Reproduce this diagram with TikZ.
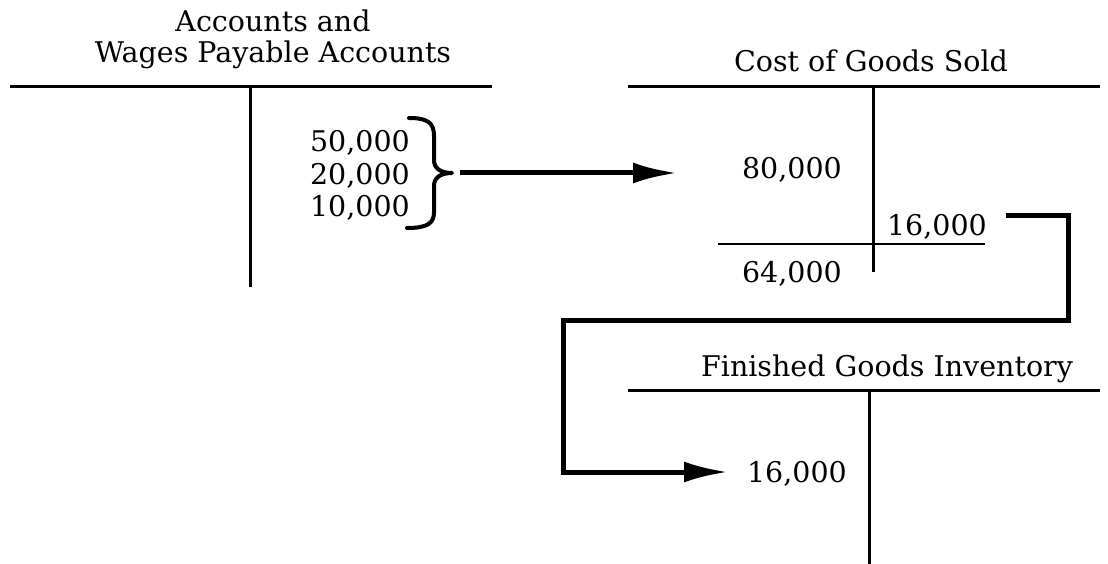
\documentclass[tikz,border=0pt]{standalone}
\usepackage{fontspec}
\setmainfont{DejaVu Serif}
\usetikzlibrary{positioning,arrows.meta}

\begin{document}
\begin{tikzpicture}[
      x=1pt, y=-1pt,
      label/.style={inner sep=0pt, font=\fontsize{28.5}{31}\selectfont},
      title/.style={label, anchor=base, align=center},
      amount/.style={label, anchor=base east, align=right,
                     font=\fontsize{28.5}{32.5}\selectfont},
      tline/.style={line width=3pt},
      rule/.style={line width=2.2pt},
      brace/.style={line width=4pt, line cap=round, line join=round},
      flow/.style={line width=5pt, -{Latex[length=44pt, width=21pt]}}
    ]
    \useasboundingbox (0,0) rectangle (1108,564);

    % --- Accounts and Wages Payable ---
    \node[title] (wpTitle) at (273,63) {Accounts and\\Wages Payable Accounts};
    \draw[tline] (10,87) -- (492,87);
    \draw[tline] (250,87) -- (250,287);
    \node[amount] (wpCredit) at (410,217) {50,000\\20,000\\10,000};
    % brace round the three credits
    \draw[brace] (409,118) .. controls (428,118) and (434,123) .. (434,136)
                 -- (434,160) .. controls (434,168) and (440,173) .. (452,173)
                 .. controls (440,173) and (434,178) .. (434,186)
                 -- (434,212) .. controls (434,223) and (428,228) .. (407,228);
    \coordinate (braceTip) at (460,173);

    % --- Cost of Goods Sold ---
    \node[title] (cgsTitle) at (871,72) {Cost of Goods Sold};
    \draw[tline] (628,87) -- (1100,87);
    \draw[tline] (873,87) -- (873,272);
    \node[amount] (cgsDebit) at (842,179) {80,000};
    \node[amount] (cgsCredit) at (987,235) {16,000};
    \draw[rule] (718,244) -- (985,244);
    \node[amount] (cgsBal) at (842,282) {64,000};
    \coordinate (cgsIn) at (677,173);
    \coordinate (cgsOut) at (1006,216);

    % --- Finished Goods Inventory ---
    \node[title] (fgTitle) at (887,376) {Finished Goods Inventory};
    \draw[tline] (628,390) -- (1100,390);
    \draw[tline] (869,390) -- (869,564);
    \node[amount] (fgDebit) at (847,482) {16,000};
    \coordinate (fgIn) at (728,472);

    % --- flows ---
    \coordinate (bendR) at (1068,320);
    \coordinate (bendL) at (563,320);
    \draw[flow] (braceTip) -- (cgsIn);
    \draw[flow] (cgsOut) -| (bendR) -- (bendL) |- (fgIn);
  \end{tikzpicture}
\end{document}
